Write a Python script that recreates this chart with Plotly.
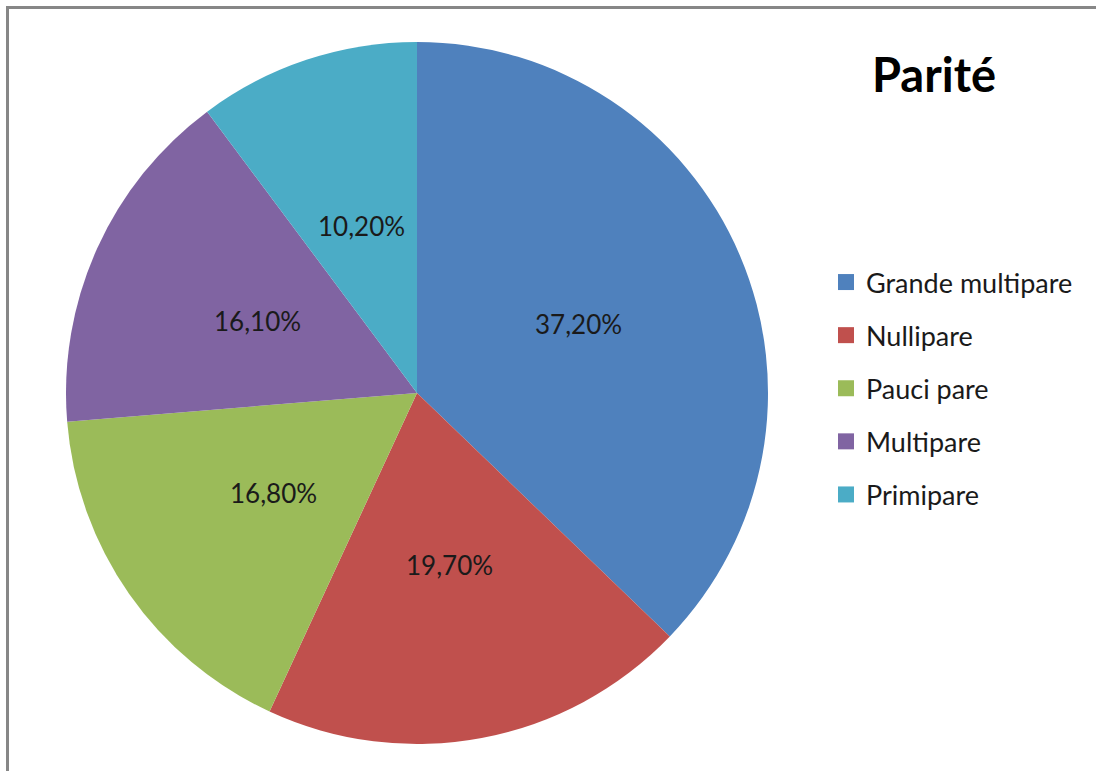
import math
import plotly.graph_objects as go

labels = ["Grande multipare", "Nullipare", "Pauci pare", "Multipare", "Primipare"]
values = [37.2, 19.7, 16.8, 16.1, 10.2]
value_text = ["37,20%", "19,70%", "16,80%", "16,10%", "10,20%"]
colors = ["#4F81BD", "#C0504D", "#9BBB59", "#8064A2", "#4BACC6"]

W, H = 1096, 771
cx, cy, R = 417, 393, 351
FONT = "Lato, sans-serif"

fig = go.Figure()
fig.add_trace(go.Pie(
    labels=labels,
    values=values,
    textinfo="none",
    marker=dict(colors=colors, line=dict(width=0)),
    sort=False,
    direction="clockwise",
    rotation=0,
    showlegend=False,
    domain=dict(x=[(cx - R) / W, (cx + R) / W], y=[1 - (cy + R) / H, 1 - (cy - R) / H]),
    hoverinfo="label+percent",
))

# legend entries (one group each so the spacing can match the original)
for i, (lab, col) in enumerate(zip(labels, colors)):
    fig.add_trace(go.Scatter(
        x=[None], y=[None], mode="markers", name=lab,
        marker=dict(symbol="square", size=16, color=col),
        legendgroup=f"g{i}", showlegend=True, hoverinfo="skip",
    ))

# value labels placed at half radius, at the middle angle of each slice
annotations = []
total = sum(values)
cum = 0.0
for v, t in zip(values, value_text):
    mid = (cum + v / 2) / total * 2 * math.pi
    cum += v
    px = cx + 0.5 * R * math.sin(mid)
    py = cy - 0.5 * R * math.cos(mid)
    annotations.append(dict(
        text=t, x=px / W, y=1 - py / H, xref="paper", yref="paper",
        showarrow=False, xanchor="center", yanchor="middle",
        font=dict(family=FONT, size=26, color="#1a1a1a"),
    ))

annotations.append(dict(
    text="<b>Parité</b>", x=934 / W, y=1 - 74 / H, xref="paper", yref="paper",
    showarrow=False, xanchor="center", yanchor="middle",
    font=dict(family=FONT, size=47, color="black"),
))

fig.update_layout(
    width=W, height=H,
    margin=dict(l=0, r=0, t=0, b=0),
    paper_bgcolor="white",
    plot_bgcolor="white",
    showlegend=True,
    xaxis=dict(visible=False),
    yaxis=dict(visible=False),
    legend=dict(
        x=826 / W, y=1 - 258 / H, xanchor="left", yanchor="top",
        font=dict(family=FONT, size=27, color="#1a1a1a"),
        itemwidth=30,
        tracegroupgap=15,
        bgcolor="rgba(0,0,0,0)",
    ),
    annotations=annotations,
    shapes=[
        dict(type="line", xref="paper", yref="paper", x0=7.5 / W, x1=1.0, y0=1 - 7.5 / H, y1=1 - 7.5 / H,
             line=dict(color="#878787", width=3)),
        dict(type="line", xref="paper", yref="paper", x0=7.5 / W, x1=7.5 / W, y0=0, y1=1 - 6 / H,
             line=dict(color="#878787", width=3)),
    ],
)

fig.write_html(
    "out.html",
    config={"displayModeBar": False},
    post_script="document.body.style.margin='0';document.body.style.overflow='hidden';",
)
